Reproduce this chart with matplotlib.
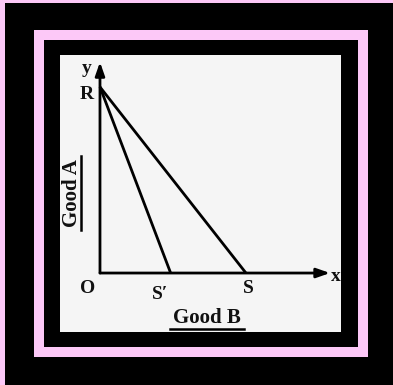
import matplotlib
matplotlib.use("Agg")
import matplotlib.pyplot as plt
from matplotlib.patches import Rectangle

# budget line intercepts (R on Good A axis, S and S' on Good B axis)
r_val = 10.0
s_val = 7.85
s_prime_val = 3.8
x_end = 12.37
y_end = 11.34

point_labels = ["y", "R", "O", "S\u2032", "S", "x"]
label_pos = [(-0.70, 11.0), (-0.70, 9.62), (-0.65, -0.81),
             (3.23, -1.13), (7.96, -0.81), (12.69, -0.16)]

W, H = 393, 385
pink = "#fcc8f7"
fig = plt.figure(figsize=(W / 100, H / 100), dpi=100, facecolor="black")

def frame(x0, y0, x1, y1, color):
    # pixel box (top-left origin) -> figure fraction
    fig.patches.append(Rectangle((x0 / W, 1 - y1 / H), (x1 - x0) / W, (y1 - y0) / H,
                                 transform=fig.transFigure, facecolor=color,
                                 edgecolor="none", zorder=0))

frame(0, 0, 5, H, pink)
frame(0, 0, W, 3, pink)
frame(34, 30, 368, 357, pink)
frame(44, 40, 358, 347, "black")
frame(60, 55, 341, 332, "#f5f5f5")

ax = fig.add_axes([60 / W, 1 - 332 / H, 281 / W, 277 / H])
ax.set_zorder(5)
ax.set_xlim(-2.15, 12.96)
ax.set_ylim(-3.17, 11.72)
ax.axis("off")

lw = 2.0
arr = dict(arrowstyle="-|>,head_length=0.8,head_width=0.28", color="black", lw=lw,
           shrinkA=0, shrinkB=0)
ax.annotate("", xy=(x_end, 0), xytext=(0, 0), arrowprops=arr)
ax.annotate("", xy=(0, y_end), xytext=(0, 0), arrowprops=arr)

ax.plot([0, s_val], [r_val, 0], color="black", lw=lw, solid_capstyle="butt")
ax.plot([0, s_prime_val], [r_val, 0], color="black", lw=lw, solid_capstyle="butt")

fnt = dict(family="Liberation Serif", weight="bold", color="#111111")
for lab, (px, py) in zip(point_labels, label_pos):
    ax.text(px, py, lab, fontsize=14, ha="center", va="center", **fnt)

ax.text(5.75, -2.42, "Good B", fontsize=15, ha="center", va="center", **fnt)
ax.plot([3.75, 7.75], [-3.0, -3.0], color="black", lw=1.8)
ax.text(-1.5, 4.3, "Good A", fontsize=15, ha="center", va="center", rotation=90, **fnt)
ax.plot([-1.0, -1.0], [2.3, 6.3], color="black", lw=1.8)

fig.savefig("out.png", dpi=100, facecolor=fig.get_facecolor())
